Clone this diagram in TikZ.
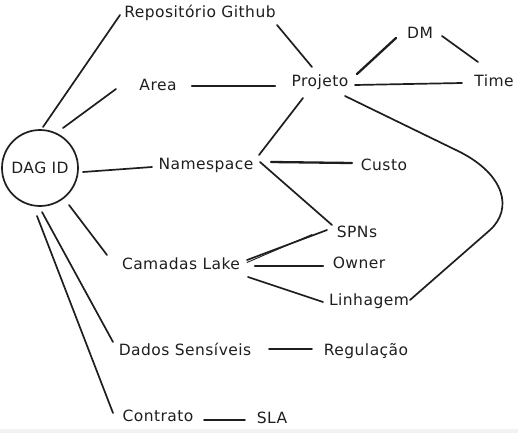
\documentclass[tikz,border=0pt]{standalone}
\usepackage{fontspec}
\setmainfont{DejaVu Sans}[LetterSpace=3]
\usetikzlibrary{calc}
\definecolor{ink}{HTML}{1E1E1E}
\definecolor{strip}{HTML}{F2F2F2}
\begin{document}
\begin{tikzpicture}[x=1pt,y=-1pt,
  lbl/.style={font=\fontsize{15.5}{18}\selectfont, text=ink, inner sep=0pt, anchor=base},
  link/.style={draw=ink, line width=1.7pt, line cap=round},
  heavy/.style={line width=2.3pt},
]
\useasboundingbox (0,0) rectangle (518,433);
\fill[strip] (0,429) rectangle (518,433);

\node[circle, draw=ink, line width=1.7pt, minimum size=76pt, inner sep=0pt,
      font=\fontsize{15.5}{18}\selectfont, text=ink] (dag) at (40,168) {DAG ID};

\node[lbl] (repo)  at (200,18)  {Repositório Github};
\node[lbl] (area)  at (158,91)  {Area};
\node[lbl] (proj)  at (320,86)  {Projeto};
\node[lbl] (dm)    at (420,39)  {DM};
\node[lbl] (time)  at (494,87)  {Time};
\node[lbl] (ns)    at (206,169) {Namespace};
\node[lbl] (custo) at (384,170) {Custo};
\node[lbl] (spns)  at (357,237) {SPNs};
\node[lbl] (owner) at (359,268) {Owner};
\node[lbl] (lin)   at (369,305) {Linhagem};
\node[lbl] (cam)   at (181,269) {Camadas Lake};
\node[lbl] (dados) at (185,355) {Dados Sensíveis};
\node[lbl] (reg)   at (366,355) {Regulação};
\node[lbl] (contr) at (158,421) {Contrato};
\node[lbl] (sla)   at (272,423) {SLA};

% DAG ID spokes
\draw[link] ($(dag)+(3,-41)$) -- ($(repo.base)+(-80,-3)$);
\draw[link] ($(dag)+(23,-40)$) -- ($(area.base)+(-42,-2)$);
\draw[link] ($(dag)+(43,4)$) -- ($(ns.base)+(-54,-2)$);
\draw[link] ($(dag)+(29,37)$) -- ($(cam.base)+(-74,-14)$);
\draw[link] ($(dag)+(2,44)$) -- ($(dados.base)+(-72,-13)$);
\draw[link] ($(dag)+(-3,48)$) -- ($(contr.base)+(-45,-8)$);

% Projeto links
\draw[link,heavy] ($(area.base)+(34,-5)$) -- ($(proj.base)+(-45,0)$);
\draw[link] ($(repo.base)+(77,7)$) -- ($(proj.base)+(-8,-19)$);
\draw[link,heavy] ($(proj.base)+(37,-12)$) -- ($(dm.base)+(-24,-1)$);
\draw[link] ($(dm.base)+(22,-3)$) -- ($(time.base)+(-16,-25)$);
\draw[link] ($(proj.base)+(35,-1)$) -- ($(time.base)+(-32,-4)$);
\draw[link] ($(proj.base)+(-17,12)$) -- ($(ns.base)+(53,-14)$);
\draw[link] ($(proj.base)+(25,10)$) -- (460,152)
  .. controls (505,175) and (513,209) .. (490,230) -- ($(lin.base)+(41,-5)$);

% Namespace links
\draw[link,heavy] ($(ns.base)+(65,-7)$) -- ($(custo.base)+(-32,-7)$);
\draw[link] ($(ns.base)+(54,-7)$) -- ($(spns.base)+(-25,-12)$);

% Camadas Lake links
\draw[link] ($(cam.base)+(66,-9)$) -- ($(spns.base)+(-30,-7)$);
\draw[link,line width=0.9pt] ($(cam.base)+(66,-6.5)$) -- ($(spns.base)+(-45,-2.5)$);
\draw[link,heavy] ($(cam.base)+(74,-3)$) -- ($(owner.base)+(-36,-2)$);
\draw[link] ($(cam.base)+(67,8)$) -- ($(lin.base)+(-46,-3)$);

% others
\draw[link] ($(dados.base)+(84,-6)$) -- ($(reg.base)+(-54,-6)$);
\draw[link] ($(contr.base)+(46,-1)$) -- ($(sla.base)+(-27,-3)$);
\end{tikzpicture}
\end{document}
